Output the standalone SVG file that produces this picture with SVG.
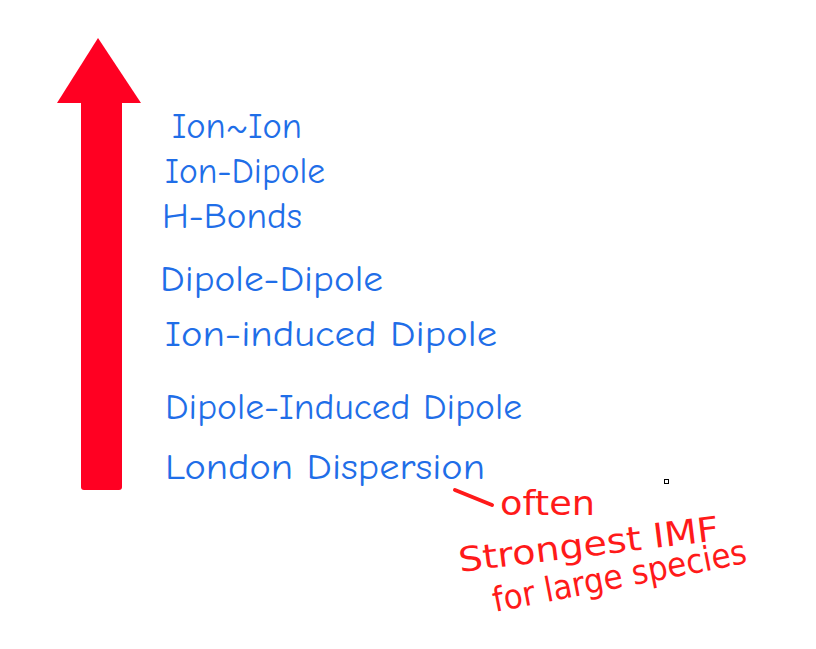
<svg xmlns="http://www.w3.org/2000/svg" width="816" height="649" viewBox="0 0 816 649">
<style>
.b{font-family:"Comic Neue","DejaVu Sans",sans-serif;font-size:36px;fill:#1f6ee8;}
.r{font-family:"DejaVu Sans",sans-serif;font-size:34px;fill:#ff1a1a;}
</style>
<rect width="816" height="649" fill="#fff"/>
<g id="arrow">
<rect x="81" y="100" width="41" height="390" rx="3" fill="#ff0022"/>
<polygon points="98,38 141,103 57,103" fill="#ff0022"/>
</g>
<g id="labels">
<text class="b" x="172" y="138" textLength="130" lengthAdjust="spacingAndGlyphs">Ion~Ion</text>
<text class="b" x="165" y="183" textLength="160" lengthAdjust="spacingAndGlyphs">Ion-Dipole</text>
<text class="b" x="162" y="228" textLength="140" lengthAdjust="spacingAndGlyphs">H-Bonds</text>
<text class="b" x="160" y="291" textLength="223" lengthAdjust="spacingAndGlyphs">Dipole-Dipole</text>
<text class="b" x="165" y="346" textLength="332" lengthAdjust="spacingAndGlyphs">Ion-induced Dipole</text>
<text class="b" x="165" y="419" textLength="357" lengthAdjust="spacingAndGlyphs">Dipole-Induced Dipole</text>
<text class="b" x="165" y="479" textLength="320" lengthAdjust="spacingAndGlyphs">London Dispersion</text>
</g>
<g id="note">
<line x1="455" y1="490" x2="492" y2="505" stroke="#ff1a1a" stroke-width="4" stroke-linecap="round"/>
<text class="r" x="500" y="515" textLength="95" lengthAdjust="spacingAndGlyphs">often</text>
<text class="r" x="460" y="572" textLength="262" lengthAdjust="spacingAndGlyphs" transform="rotate(-7 460 572)">Strongest IMF</text>
<text class="r" x="495" y="612" textLength="258" lengthAdjust="spacingAndGlyphs" transform="rotate(-11 495 612)">for large species</text>
</g>
<rect x="664.5" y="479.5" width="4" height="4" fill="none" stroke="#000" stroke-width="1"/>
</svg>
